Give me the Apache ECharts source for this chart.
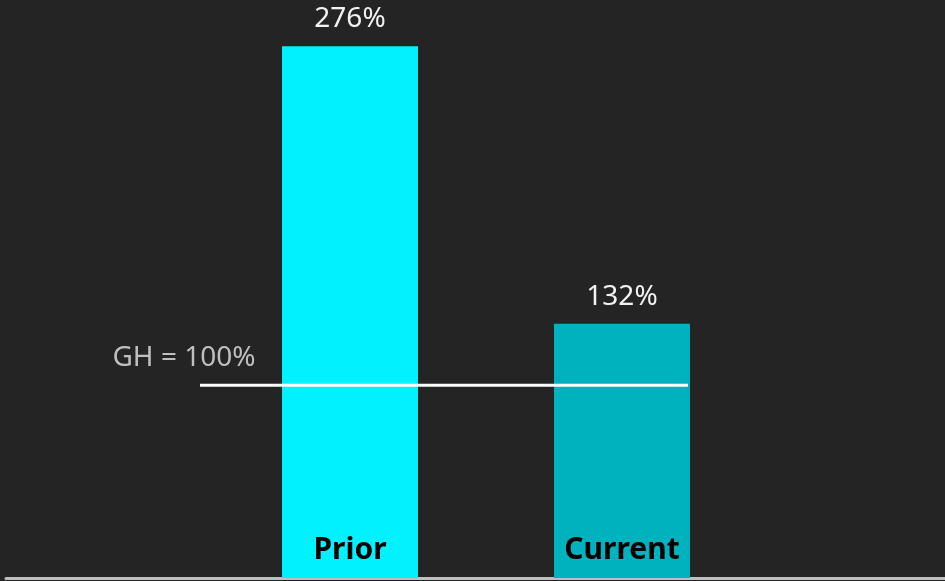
<!DOCTYPE html>
<html>
<head>
<meta charset="utf-8">
<script src="https://cdn.jsdelivr.net/npm/echarts@6/dist/echarts.min.js"></script>
<style>
  html, body { margin: 0; padding: 0; background: #242424; }
  #chart { width: 945px; height: 581px; }
</style>
</head>
<body>
<div id="chart"></div>
<script>
// data
const categories = ['Prior', 'Current'];
const values = [276, 132];
const barColors = ['#00F2FF', '#00B2BE'];
const ghValue = 100;
const ghLabel = 'GH = 100%';
// horizontal extent of the GH reference line (pixels, on the overlay axis)
const ghLineFrom = 200;
const ghLineTo = 688;

const font = '"Noto Sans", "Open Sans", sans-serif';

let myChart = echarts.init(document.getElementById('chart'));

let option = {
  backgroundColor: '#242424',
  animation: false,
  grid: [
    { left: 214, width: 544, top: 0, bottom: 3 },
    { left: 6, right: 0, top: 0, bottom: 3 }
  ],
  xAxis: [
    {
      type: 'category',
      gridIndex: 0,
      data: categories,
      axisLine: { show: false },
      axisTick: { show: false },
      axisLabel: { show: false }
    },
    {
      type: 'value',
      gridIndex: 1,
      min: 6,
      max: 945,
      axisLine: { show: true, onZero: false, lineStyle: { color: '#BFBFBF', width: 3 } },
      axisTick: { show: false },
      axisLabel: { show: false },
      splitLine: { show: false }
    }
  ],
  yAxis: [
    { type: 'value', gridIndex: 0, min: 0, max: 300, show: false, splitLine: { show: false } },
    { type: 'value', gridIndex: 1, min: 0, max: 300, show: false, splitLine: { show: false } }
  ],
  series: [
    {
      type: 'bar',
      xAxisIndex: 0,
      yAxisIndex: 0,
      barWidth: '50%',
      data: values.map((v, i) => ({ value: v, itemStyle: { color: barColors[i] } })),
      label: {
        show: true,
        position: 'top',
        distance: 13,
        formatter: '{c}%',
        color: '#F2F2F2',
        fontSize: 28,
        fontFamily: font
      }
    },
    {
      type: 'bar',
      xAxisIndex: 0,
      yAxisIndex: 0,
      barWidth: '50%',
      barGap: '-100%',
      z: 3,
      data: values,
      itemStyle: { color: 'transparent' },
      label: {
        show: true,
        position: 'insideBottom',
        distance: 13,
        formatter: '{b}',
        color: '#000000',
        fontSize: 30,
        fontWeight: 'bold',
        fontFamily: font
      }
    },
    {
      type: 'line',
      xAxisIndex: 1,
      yAxisIndex: 1,
      z: 4,
      symbol: 'circle',
      symbolSize: 1,
      showSymbol: true,
      itemStyle: { color: 'transparent' },
      lineStyle: { color: '#FFFFFF', width: 3 },
      data: [
        {
          value: [ghLineFrom, ghValue],
          label: {
            show: true,
            position: 'top',
            offset: [-16, -8],
            formatter: ghLabel,
            color: '#BFBFBF',
            fontSize: 28,
            fontFamily: font
          }
        },
        [ghLineTo, ghValue]
      ]
    }
  ]
};

myChart.setOption(option);
</script>
</body>
</html>
